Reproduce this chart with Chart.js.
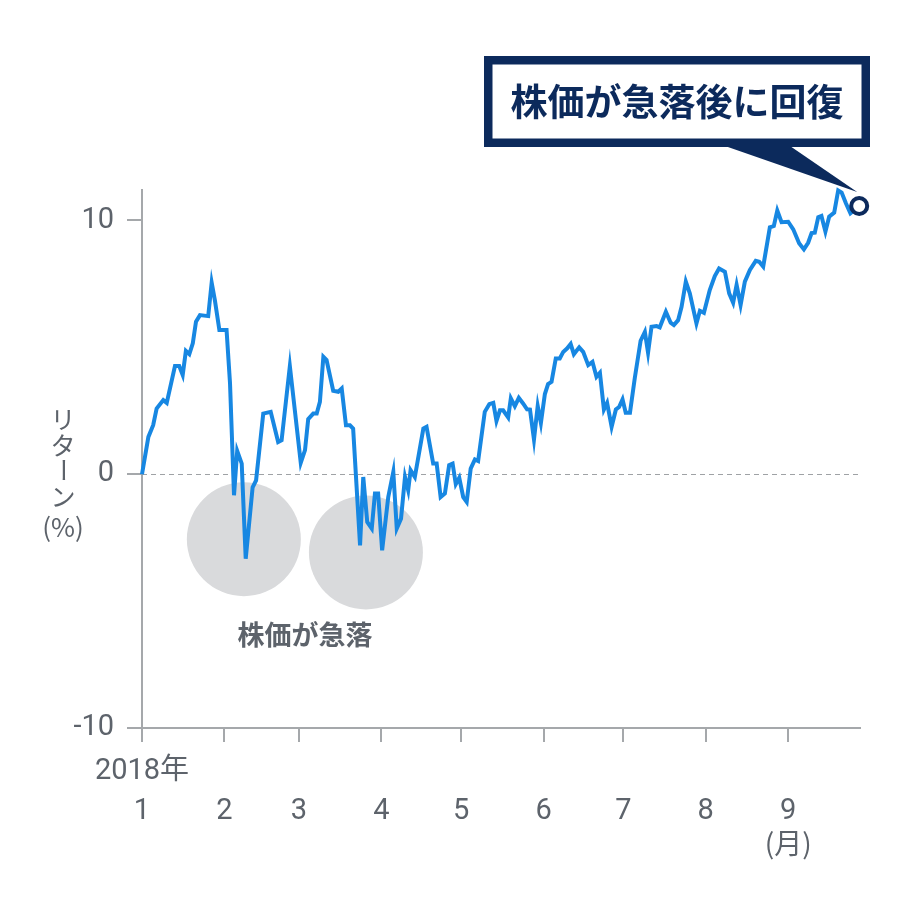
<!DOCTYPE html>
<html>
<head>
<meta charset="utf-8">
<script src="https://cdn.jsdelivr.net/npm/chart.js@4/dist/chart.umd.min.js"></script>
<style>
  body { margin: 0; background: #fff; }
  canvas { display: block; }
</style>
</head>
<body>
<canvas id="returnChart" width="920" height="910"></canvas>
<script>
// Days since 2018-01-01 and cumulative return (%)
const days = [0,2.4,4.2,5.5,8.0,9.3,12.4,14.0,15.3,16.5,
  17.8,19.1,20.3,21.8,24.9,26.2,27.4,29.1,31.8,33.1,
  34.6,35.8,37.5,39.0,41.6,42.9,45.6,48.4,51.2,52.5,
  55.6,59.7,61.3,62.5,64.4,65.7,66.9,68.2,69.4,71.9,
  73.8,75.1,76.7,78.2,79.4,82.0,83.2,84.7,86.4,87.6,
  88.8,90.3,92.6,94.5,95.8,97.4,98.9,100.1,101.0,102.6,
  105.8,107.0,109.5,110.8,112.3,113.9,115.5,116.8,118.0,119.3,
  120.8,122.1,123.6,125.2,126.4,128.9,130.6,132.1,133.3,134.6,
  135.8,137.7,138.7,140.2,141.7,143.3,144.8,145.9,147.4,148.8,
  150.0,151.5,152.7,154.0,155.6,157.1,158.4,159.9,161.2,162.4,
  164.4,165.9,167.8,169.4,170.9,172.2,173.7,174.9,176.6,178.2,
  179.4,180.7,181.9,183.5,185.3,187.5,189.1,190.3,191.6,193.5,
  194.7,197.0,198.8,200.0,201.6,202.9,204.5,206.0,208.5,209.8,
  211.3,213.5,215.4,217.0,219.2,220.8,222.3,223.6,225.1,226.7,
  228.6,230.8,232.1,233.6,236.1,237.6,238.9,240.5,243.0,244.9,
  247.1,248.9,250.5,251.8,253.0,254.3,255.5,257.0,258.4,260.3,
  261.8,263.1,264.7,266.4,269.7];

const returns = [0,1.47,1.93,2.59,2.92,2.81,4.26,4.26,3.91,4.86,
  4.73,5.16,6.01,6.27,6.23,7.55,6.86,5.68,5.68,3.58,
  -0.83,0.92,0.42,-3.33,-0.52,-0.24,2.39,2.46,1.27,1.34,
  4.26,0.45,0.95,2.17,2.39,2.39,2.85,4.63,4.50,3.29,
  3.25,3.38,1.93,1.93,1.80,-2.80,-0.11,-1.88,-2.14,-0.76,
  -0.76,-3.00,-0.90,0.09,-2.14,-1.75,-0.11,-0.63,0.16,-0.11,
  1.80,1.87,0.42,0.42,-0.90,-0.76,0.36,0.42,-0.39,-0.14,
  -0.90,-1.09,0.22,0.58,0.52,2.46,2.76,2.81,2.10,2.52,
  2.52,2.24,2.99,2.68,3.01,2.79,2.56,2.55,1.37,2.69,
  2.02,3.16,3.55,3.64,4.56,4.56,4.82,4.96,5.13,4.73,
  5.00,4.82,4.30,4.43,3.84,4.00,2.55,2.81,1.87,2.55,
  2.65,2.95,2.42,2.42,3.78,5.26,5.61,4.79,5.81,5.84,
  5.79,6.40,5.97,5.88,6.07,6.60,7.59,7.13,5.94,6.44,
  6.36,7.26,7.81,8.11,7.98,7.13,6.76,7.46,6.67,7.59,
  8.05,8.41,8.37,8.18,9.73,9.78,10.39,9.93,9.95,9.65,
  9.10,8.86,9.12,9.50,9.52,10.13,10.18,9.56,10.15,10.31,
  11.18,11.10,10.68,10.28,10.57];

// Month ticks (day offset of each month start)
const monthStarts = [0, 31, 59, 90, 120, 151, 181, 212, 243];
const monthLabels = ['1', '2', '3', '4', '5', '6', '7', '8', '9'];
const yTicks = [-10, 0, 10];

const gray = '#5d636b';
const axisGray = '#a5a8ab';
const navy = '#0c2a5c';
const latin = 'Roboto, "Noto Sans CJK JP", sans-serif';
const cjk = '"Noto Sans CJK JP", sans-serif';

// Extra drawing: zero line, circles, callout, titles
const annotations = {
  id: 'annotations',
  beforeDatasetsDraw(chart) {
    const { ctx, chartArea: a, scales: { x, y } } = chart;
    ctx.save();
    // dashed zero line
    const y0 = Math.round(y.getPixelForValue(0)) + 0.5;
    ctx.strokeStyle = '#9fa2a5';
    ctx.lineWidth = 1;
    ctx.setLineDash([5, 4]);
    ctx.beginPath();
    ctx.moveTo(a.left, y0);
    ctx.lineTo(a.right, y0);
    ctx.stroke();
    ctx.setLineDash([]);

    // gray circles around the drops
    ctx.fillStyle = '#d9dadc';
    [[38.3, -2.56], [84.2, -3.08]].forEach(([d, v]) => {
      ctx.beginPath();
      ctx.arc(x.getPixelForValue(d), y.getPixelForValue(v), 57, 0, Math.PI * 2);
      ctx.fill();
    });

    ctx.fillStyle = gray;
    ctx.font = 'bold 27px ' + cjk;
    ctx.textAlign = 'center';
    ctx.textBaseline = 'middle';
    ctx.fillText('株価が急落', x.getPixelForValue(61.3), y.getPixelForValue(-6.34));
    ctx.restore();
  },
  afterDraw(chart) {
    const { ctx, scales: { x } } = chart;
    const last = chart.getDatasetMeta(0).data[days.length - 1];
    ctx.save();

    // callout box
    ctx.fillStyle = navy;
    ctx.fillRect(484, 56, 386, 91);
    ctx.fillStyle = '#fff';
    ctx.fillRect(492.5, 64.5, 369, 74);
    ctx.fillStyle = navy;
    ctx.beginPath();
    ctx.moveTo(725, 146);
    ctx.lineTo(790, 146);
    ctx.lineTo(last.x - 2, last.y - 14);
    ctx.closePath();
    ctx.fill();
    ctx.font = 'bold 37px ' + cjk;
    ctx.textAlign = 'center';
    ctx.textBaseline = 'middle';
    ctx.fillText('株価が急落後に回復', 677, 102);

    // y axis title (vertical)
    ctx.fillStyle = gray;
    ctx.font = '25px ' + cjk;
    ctx.fillText('リ', 63, 419);
    ctx.fillText('タ', 63, 445);
    ctx.fillText('ン', 63, 496);
    ctx.save();
    ctx.translate(63, 470);
    ctx.rotate(Math.PI / 2);
    ctx.fillText('ー', 0, 0);
    ctx.restore();
    ctx.font = '26px ' + cjk;
    ctx.fillText('(%)', 63, 527);

    // year and unit labels on the x axis
    ctx.font = '29px ' + latin;
    ctx.fillText('2018年', x.getPixelForValue(0), 772);
    ctx.font = '28px ' + cjk;
    ctx.fillText('(月)', x.getPixelForValue(243), 843);
    ctx.restore();
  }
};

const ctx = document.getElementById('returnChart').getContext('2d');
const lastIndex = days.length - 1;

new Chart(ctx, {
  type: 'line',
  data: {
    datasets: [{
      data: days.map((d, i) => ({ x: d, y: returns[i] })),
      borderColor: '#1787e2',
      borderWidth: 4,
      tension: 0,
      clip: false,
      pointRadius: c => c.dataIndex === lastIndex ? 8 : 0,
      pointBorderWidth: 4,
      pointBorderColor: navy,
      pointBackgroundColor: '#fff'
    }]
  },
  options: {
    responsive: false,
    animation: false,
    events: [],
    layout: { padding: { top: 190, right: 60, left: 0, bottom: 0 } },
    plugins: {
      legend: { display: false },
      tooltip: { enabled: false }
    },
    scales: {
      x: {
        type: 'linear',
        min: 0,
        max: 270,
        afterBuildTicks: s => { s.ticks = monthStarts.map(v => ({ value: v })); },
        afterFit: s => { s.height = 182; },
        ticks: {
          autoSkip: false,
          maxRotation: 0,
          padding: 52,
          color: gray,
          font: { family: latin, size: 29 },
          callback: (v, i) => monthLabels[i]
        },
        grid: { drawOnChartArea: false, drawTicks: true, tickLength: 14, color: axisGray, lineWidth: 2 },
        border: { color: axisGray, width: 2 }
      },
      y: {
        min: -10,
        max: 11.2,
        afterBuildTicks: s => { s.ticks = yTicks.map(v => ({ value: v })); },
        afterFit: s => { s.width = 142; },
        ticks: {
          padding: 13,
          color: gray,
          font: { family: latin, size: 29 }
        },
        grid: { drawOnChartArea: false, drawTicks: true, tickLength: 15, color: axisGray, lineWidth: 2 },
        border: { color: axisGray, width: 2 }
      }
    }
  },
  plugins: [annotations]
});
</script>
</body>
</html>
